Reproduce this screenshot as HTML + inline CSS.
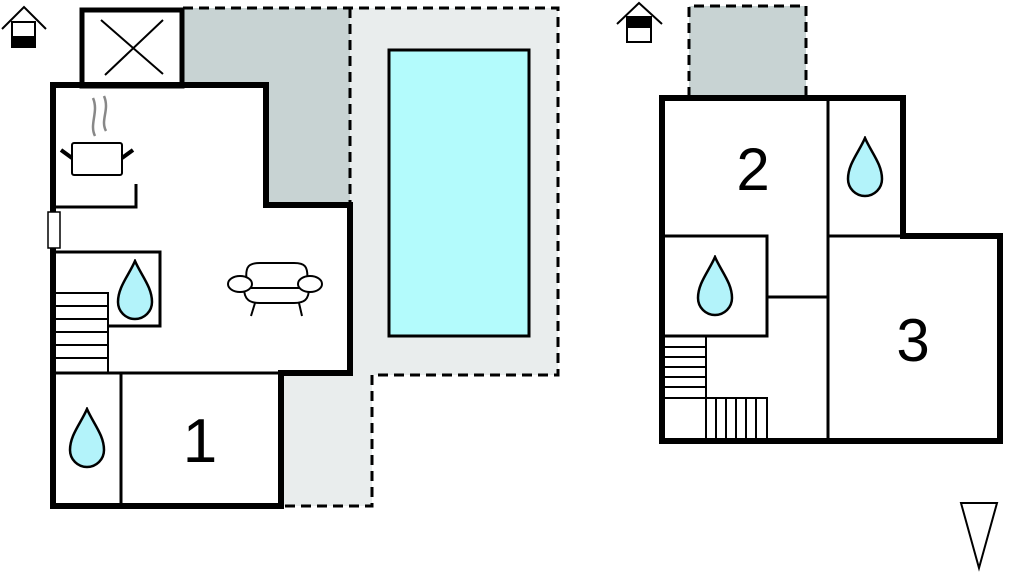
<!DOCTYPE html>
<html><head><meta charset="utf-8"><style>html,body{margin:0;padding:0;background:#fff}svg{display:block}</style></head><body>
<svg width="1024" height="573" viewBox="0 0 1024 573" xmlns="http://www.w3.org/2000/svg">
<defs>
<symbol id="drop" viewBox="-20 0 40 62"><path d="M0 2 C-6 16 -17 28 -17 43 A17 17 0 0 0 17 43 C17 28 6 16 0 2 Z" fill="#b3f3fa" stroke="#000" stroke-width="2.5"/></symbol>
</defs>
<polygon points="350,8 558,8 558,375 372,375 372,506 283,506 283,373 350,373" fill="#e9eded"/>
<polygon points="183,8 350,8 350,205 266,205 266,85 183,85" fill="#c8d3d3"/>
<g fill="none" stroke="#000" stroke-width="3" stroke-dasharray="10,6">
<path d="M183 8 H558 V375 H372 V506 H283"/>
<path d="M350 8 V205"/>
</g>
<rect x="389" y="50" width="140" height="286" fill="#b3fbfc" stroke="#000" stroke-width="3"/>
<rect x="82" y="10" width="100" height="76" fill="#fff" stroke="#000" stroke-width="5"/>
<path d="M101 20 L163 74 M163 20 L105 75" stroke="#000" stroke-width="2"/>
<path d="M53 85 H266 V205 H350 V373 H281 V506 H53 Z" fill="#fff" stroke="#000" stroke-width="6"/>
<rect x="82" y="10" width="100" height="76" fill="none" stroke="#000" stroke-width="5"/>
<g stroke="#000" stroke-width="3" fill="none">
<path d="M53 373 H281"/>
<path d="M121 373 V506"/>
<path d="M55 252 H160 V326 H108"/>
<path d="M56 207 H136 V184"/>
</g>
<g stroke="#000" stroke-width="2" fill="none">
<path d="M56 293 H108 V372"/>
<path d="M56 306 H108 M56 319 H108 M56 332 H108 M56 345 H108 M56 358 H108"/>
</g>
<rect x="48" y="212" width="12" height="36" fill="#fff" stroke="#000" stroke-width="1.5"/>
<path d="M95 136 C89 124 99 112 93 98 M106 131 C100 120 110 110 104 96" stroke="#888" stroke-width="2.5" fill="none"/>
<rect x="72" y="143" width="50" height="32" rx="2" fill="#fff" stroke="#000" stroke-width="2"/>
<path d="M61 150 L72 158 M133 150 L122 158" stroke="#000" stroke-width="4"/>
<g fill="#fff" stroke="#000" stroke-width="2">
<path d="M247 283 C244 265 250 263 260 263 H294 C304 263 309 265 307 283"/>
<path d="M244 288 C244 300 250 303 260 303 H294 C304 303 309 300 309 288"/>
<path d="M248 288 H306"/>
<ellipse cx="240" cy="284" rx="12" ry="8"/><ellipse cx="310" cy="284" rx="12" ry="8"/>
<path d="M255 303 L251 316 M299 303 L302 316"/>
</g>
<use href="#drop" x="115" y="259" width="40" height="62"/>
<use href="#drop" x="67" y="407" width="40" height="62"/>
<text x="200" y="462" font-family="Liberation Sans, sans-serif" font-size="62" text-anchor="middle">1</text>
<path d="M2 29 L24 7 L46 29" fill="none" stroke="#000" stroke-width="2"/>
<rect x="12" y="22" width="23" height="25" fill="#fff" stroke="#000" stroke-width="2"/>
<rect x="12" y="36" width="23" height="11" fill="#000"/>
<rect x="689" y="6" width="117" height="91" fill="#c8d3d3"/>
<path d="M689 97 V6 H806 V97" fill="none" stroke="#000" stroke-width="3" stroke-dasharray="10,6"/>
<path d="M662 98 H903 V236 H1000 V441 H662 Z" fill="#fff" stroke="#000" stroke-width="6"/>
<g stroke="#000" stroke-width="3" fill="none">
<path d="M828 98 V441"/>
<path d="M828 236 H903"/>
<path d="M664 236 H767 V336 H664"/>
<path d="M767 297 H828"/>
</g>
<g stroke="#000" stroke-width="2" fill="none">
<path d="M706 336 V441"/>
<path d="M664 347 H706 M664 357 H706 M664 367 H706 M664 377 H706 M664 387 H706 M664 398 H767 V441"/>
<path d="M716 398 V441 M726 398 V441 M736 398 V441 M746 398 V441 M756 398 V441"/>
</g>
<use href="#drop" x="845" y="136" width="40" height="62"/>
<use href="#drop" x="695" y="255" width="40" height="62"/>
<text x="753" y="190" font-family="Liberation Sans, sans-serif" font-size="60" text-anchor="middle">2</text>
<text x="913" y="361" font-family="Liberation Sans, sans-serif" font-size="60" text-anchor="middle">3</text>
<path d="M617 24 L639 3 L662 24" fill="none" stroke="#000" stroke-width="2"/>
<rect x="627" y="17" width="24" height="25" fill="#fff" stroke="#000" stroke-width="2"/>
<rect x="627" y="17" width="24" height="11" fill="#000"/>
<polygon points="961,503 997,503 979,568" fill="none" stroke="#000" stroke-width="2"/>
</svg>
</body></html>
